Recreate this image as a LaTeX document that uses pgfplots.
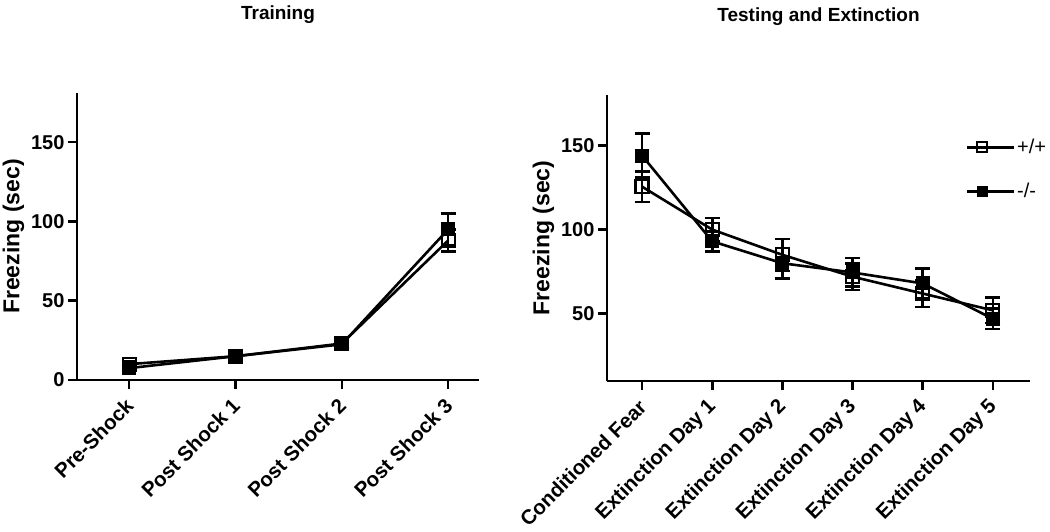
\documentclass[border=0pt]{standalone}
\usepackage{pgfplots}
\pgfplotsset{compat=1.18}
\usepackage{fontspec}
\setmainfont{Liberation Sans}
\begin{document}
\begin{tikzpicture}
\path[use as bounding box] (0pt,0pt) rectangle (1050pt,-532pt);
\pgfplotsset{
  myaxis/.style={
    scale only axis,
    axis x line*=bottom, axis y line*=left,
    axis line style={line width=2.6pt,-},
    every tick/.style={line width=2.6pt, black},
    major tick length=9pt,
    tick align=outside,
    xtick=data,
    /pgf/number format/assume math mode=true,
    tick label style={font=\bfseries\fontsize{20}{24}\selectfont},
    xticklabel style={font=\bfseries\fontsize{20.5}{24}\selectfont, xshift=1pt, yshift=-13pt, rotate=45, anchor=east, inner sep=0.5pt},
    ylabel={Freezing (sec)},
    ylabel style={font=\bfseries\fontsize{23}{27}\selectfont},
    title style={font=\bfseries\fontsize{19}{22}\selectfont, at={(0.5,1)}, anchor=south, yshift=60pt},
    error bars/error bar style={line width=2.6pt, black},
    error bars/error mark options={rotate=90, mark size=7.5pt, line width=2.6pt, black},
  },
  wt/.style={black, line width=2.6pt, mark=square, mark size=6.5pt, mark options={fill=white, line width=2.2pt, solid, black}},
  ko/.style={black, line width=2.6pt, mark=square*, mark size=6.5pt, mark options={fill=black, line width=1pt, solid, black}},
}
% Left: Training
\begin{axis}[myaxis,
  at={(77pt,-380pt)}, anchor=south west,
  width=402pt, height=287pt,
  xmin=-0.49, xmax=3.29, ymin=0, ymax=181,
  ytick={0,50,100,150},
  xticklabels={Pre-Shock,Post Shock 1,Post Shock 2,Post Shock 3},
  title={Training},
]
\addplot[ko, error bars/.cd, y dir=both, y explicit] coordinates {
  (0,7.5) +- (0,1.5)
  (1,15) +- (0,1.5)
  (2,22.5) +- (0,2)
  (3,95) +- (0,10)
};
\addplot[wt, error bars/.cd, y dir=both, y explicit] coordinates {
  (0,10) +- (0,1.5)
  (1,15) +- (0,1.5)
  (2,23) +- (0,2)
  (3,88) +- (0,7)
};
\end{axis}
% Right: Testing and Extinction
\begin{axis}[myaxis,
  at={(607pt,-381pt)}, anchor=south west,
  width=423pt, height=286pt,
  xmin=-0.5, xmax=5.53, ymin=10, ymax=180,
  ytick={50,100,150},
  xticklabels={Conditioned Fear,Extinction Day 1,Extinction Day 2,Extinction Day 3,Extinction Day 4,Extinction Day 5},
  title={Testing and Extinction},
  legend style={at={(0.84,0.86)}, anchor=north west, draw=none, fill=none,
    font=\fontsize{20}{24}\selectfont, row sep=24pt, legend cell align=left},
  legend image code/.code={\draw[mark repeat=2,mark phase=2,#1] plot coordinates {(0pt,0pt)(15.5pt,0pt)(31pt,0pt)};\path (0pt,0pt) -- (47pt,0pt);},
  legend image post style={mark size=5pt},
]
\addplot[wt, error bars/.cd, y dir=both, y explicit] coordinates {
  (0,125.5) +- (0,9)
  (1,100) +- (0,7)
  (2,85) +- (0,9.5)
  (3,72) +- (0,8)
  (4,62) +- (0,8)
  (5,52) +- (0,7.5)
};
\addlegendentry{+/+}
\addplot[ko, error bars/.cd, y dir=both, y explicit] coordinates {
  (0,144) +- (0,13)
  (1,93) +- (0,6)
  (2,80) +- (0,9)
  (3,74.5) +- (0,8.5)
  (4,68) +- (0,9)
  (5,47) +- (0,6)
};
\addlegendentry{-/-}
\end{axis}
\end{tikzpicture}
\end{document}
